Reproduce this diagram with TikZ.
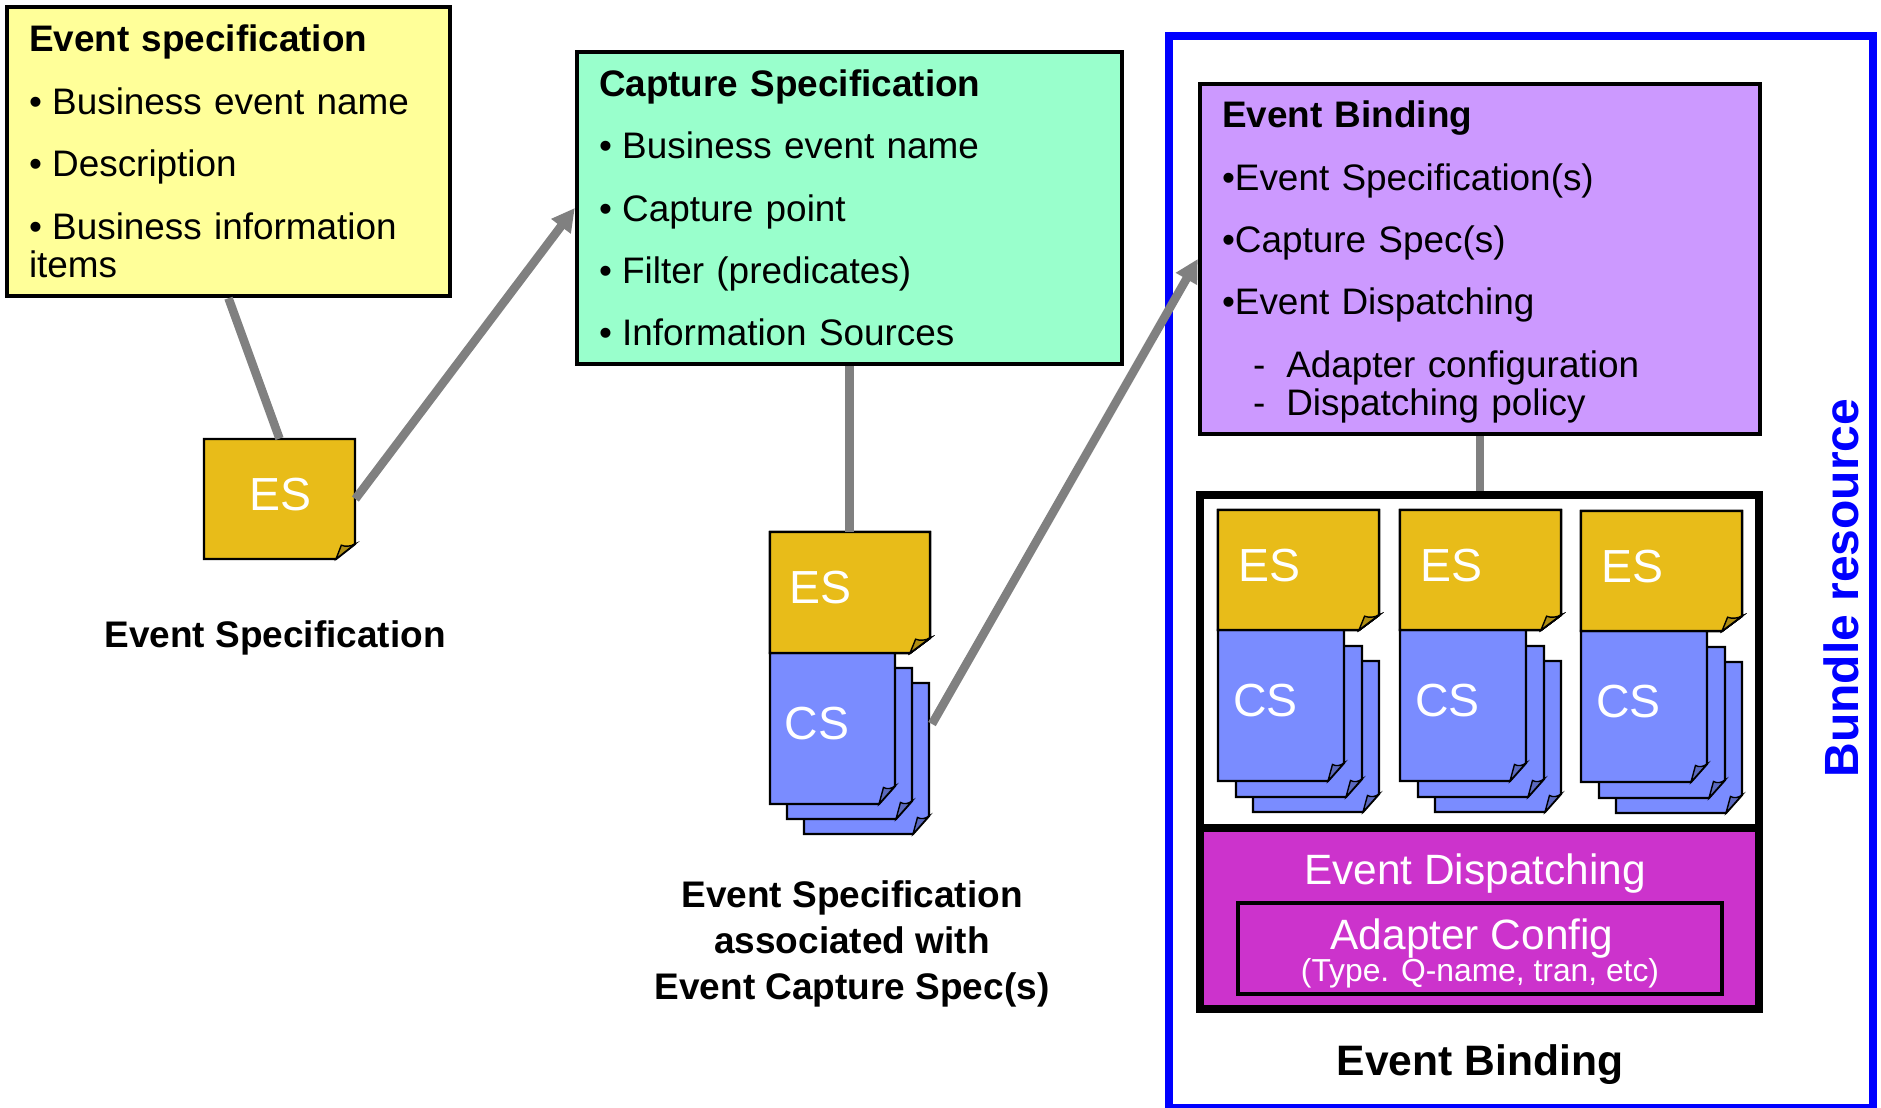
\documentclass[tikz,border=0pt]{standalone}
\usepackage{fontspec}
\setmainfont{Liberation Sans}
\usepackage{xcolor}
\usepackage{tikz}
\usetikzlibrary{calc,positioning,arrows.meta}
\definecolor{specyellow}{HTML}{FFFF99}
\definecolor{capturegreen}{HTML}{99FFCC}
\definecolor{bindlilac}{HTML}{CC99FF}
\definecolor{esgold}{HTML}{E8BC19}
\definecolor{csblue}{HTML}{7A8CFF}
\definecolor{dispmagenta}{HTML}{CC33CC}
\definecolor{linkgray}{HTML}{808080}
\tikzset{
    >={Triangle[length=11.5pt,width=11.5pt]},
    specbox/.style={
        rectangle,
        draw=black, line width=2.2pt,
        inner xsep=11pt, inner ysep=0pt,
        align=left,
        font={\fontsize{18.45pt}{19.2pt}\selectfont},
    },
    heavybox/.style={
        rectangle,
        draw=black, line width=4pt,
        inner sep=0pt,
    },
    pagebox/.style={rectangle, inner sep=0pt},
    pageline/.style={draw=black, line width=1.1pt, line join=miter},
    foldline/.style={draw=black, line width=0.7pt},
    pagetext/.style={text=white, inner sep=0pt, font={\fontsize{23.2pt}{25pt}\selectfont}},
    paneltext/.style={text=white, inner sep=0pt, font={\fontsize{21.2pt}{23pt}\selectfont}},
    link/.style={draw=linkgray, line width=4.3pt},
    caption/.style={
        align=center, inner sep=0pt,
        font={\fontsize{18.5pt}{23pt}\selectfont\bfseries},
    },
}
% one sheet: name, x1, y1, x2, y2, colour, fold dx, fold dy
\newcommand{\notepage}[8]{
  \node [pagebox, minimum width={(#4-#2)*0.5pt}, minimum height={(#5-#3)*0.5pt}] (#1) at ({(#2+#4)/2},{(#3+#5)/2}) {};
  \path [pageline, fill=#6] ({#2},{#3}) -- ({#4},{#3}) -- ({#4},{#5-#8}) -- ({#4-#7},{#5}) -- ({#2},{#5}) -- cycle;
  \path [foldline, fill=#6!75!black] ({#4-#7},{#5}) -- ({#4-#7*0.72},{#5-#8*0.92})
    .. controls ({#4-#7*0.5},{#5-#8*0.8}) and ({#4-#7*0.2},{#5-#8*0.85}) .. ({#4},{#5-#8}) -- cycle;
}
\newcommand{\adapteritem}[1]{\hspace*{15.6pt}-\hspace*{10.4pt}#1}
\newcommand{\bulletitem}{•\hspace{.278em}}
\begin{document}
\begin{tikzpicture}[x=0.5pt, y=-0.5pt]
\useasboundingbox (0,0) rectangle (1881,1108);

% the three boxes on top
\node [specbox, fill=specyellow, text width=199.5pt, minimum height=144.5pt] (spec) at (228.5,151.5)
  {\textbf{Event specification}\\[12pt]
   \bulletitem Business event name\\[12pt]
   \bulletitem Description\\[12pt]
   \bulletitem Business information\\
   items};
\node [specbox, fill=capturegreen, text width=250.5pt, minimum height=156pt] (capture) at (849.5,208)
  {\textbf{Capture Specification}\\[12pt]
   \bulletitem Business event name\\[12pt]
   \bulletitem Capture point\\[12pt]
   \bulletitem Filter (predicates)\\[12pt]
   \bulletitem Information Sources\par\vspace*{1.8pt}};
\node [specbox, fill=bindlilac, text width=258pt, minimum height=175pt] (binding) at (1480,259)
  {\rule{0pt}{16.5pt}\textbf{Event Binding}\\[12pt]
   •Event Specification(s)\\[12pt]
   •Capture Spec(s)\\[12pt]
   •Event Dispatching\\[12pt]
   \adapteritem{Adapter configuration}\\
   \adapteritem{Dispatching policy}};

% bundle frame
\node [rectangle, draw=blue, line width=4pt, inner sep=0pt, minimum width=352pt, minimum height=536pt] (bundle) at (1521,572) {};
\node [text=blue, inner sep=0pt, rotate=90, font={\fontsize{24pt}{26pt}\selectfont\bfseries}] (bundlelabel) at (1841,588) {Bundle resource};

% single event sheet
\notepage{esA}{204}{439}{355}{559}{esgold}{19}{15}
\node [pagetext] (esAtext) at (280,495) {ES};
\node [caption] (esAcaption) at (275,638) {Event Specification};

% sheet with capture stack
\foreach \i/\dx/\dy in {3/34/30, 2/17/15, 1/0/0}
  \notepage{csB\i}{770+\dx}{653+\dy}{895+\dx}{804+\dy}{csblue}{16}{18}
\notepage{esB}{770}{532}{930}{653}{esgold}{20}{15}
\node [pagetext] (esBtext) at (820.5,588) {ES};
\node [pagetext] (csBtext) at (817,724) {CS};
\node [caption] (esBcaption) at (852,944) {Event Specification\\associated with\\Event Capture Spec(s)};

% binding panels
\node [heavybox, fill=white, minimum width=279.5pt, minimum height=166.5pt] (sheets) at (1479.5,661.5) {};
\node [heavybox, fill=dispmagenta, minimum width=279.5pt, minimum height=90.5pt] (dispatch) at (1479.5,918.5) {};
\node [rectangle, draw=black, line width=2.2pt, inner sep=0pt, fill=dispmagenta, minimum width=242pt, minimum height=45.5pt] (adapter) at (1480,948.5) {};
\node [paneltext] (dispatchlabel) at (1475,874) {Event Dispatching};
\node [paneltext] (adapterlabel) at (1472,939) {Adapter Config};
\node [text=white, inner sep=0pt, font={\fontsize{15.9pt}{18pt}\selectfont}] (adaptersub) at (1480,973.5) {(Type. Q-name, tran, etc)};
\foreach \g/\gx/\gy in {1/0/0, 2/182/0, 3/363/1} {
  \foreach \i/\dx/\dy in {3/35/31, 2/18/16, 1/0/0}
    \notepage{cs\g\i}{1218+\gx+\dx}{630+\gy+\dy}{1344+\gx+\dx}{781+\gy+\dy}{csblue}{16}{18}
  \notepage{es\g}{1218+\gx}{510+\gy}{1379+\gx}{630+\gy}{esgold}{20}{15}
  \node [pagetext] (es\g text) at (1269.5+\gx,565.5+\gy) {ES};
  \node [pagetext] (cs\g text) at (1265.5+\gx,700.5+\gy) {CS};
}
\node [caption, font={\fontsize{21.3pt}{23pt}\selectfont\bfseries}] (bindingcaption) at (1480,1065) {Event Binding};

% connectors
\coordinate (csBout) at (932,724);
\draw [link] (spec.south) -- (esA.north);
\draw [link, ->] (esA.east) -- (capture.west);
\draw [link] (capture.south) -- (capture.south |- esB.north);
\draw [link, ->] (csBout) -- (binding.west);
\draw [link] (binding.south) -- (binding.south |- sheets.north);

\end{tikzpicture}
\end{document}
